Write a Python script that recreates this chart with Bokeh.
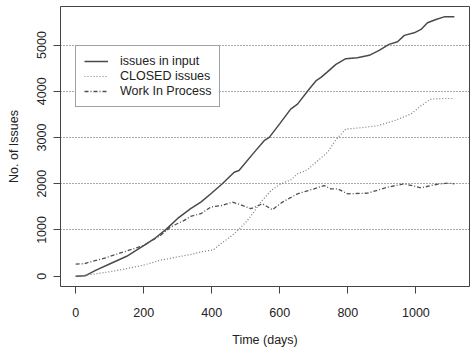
from bokeh.plotting import figure
from bokeh.models import Range1d, FixedTicker, Legend, LegendItem
from bokeh.embed import file_html
from bokeh.resources import INLINE

# Issues entering the process (cumulative)
input_days = [0, 29, 60, 103, 150, 201, 235, 265, 299, 338, 368, 400, 431, 466, 480,
              529, 554, 569, 600, 632, 652, 686, 706, 721, 740, 765, 794, 828, 863,
              892, 921, 946, 966, 995, 1015, 1034, 1059, 1083, 1113]
input_vals = [0, 10, 130, 273, 430, 668, 830, 1006, 1243, 1459, 1602, 1800, 1998, 2248, 2284,
              2716, 2931, 3002, 3300, 3614, 3722, 4045, 4224, 4300, 4420, 4583, 4705, 4726, 4778,
              4886, 5015, 5071, 5209, 5265, 5338, 5481, 5553, 5610, 5610]

# Issues closed (cumulative)
closed_days = [0, 54, 100, 152, 200, 250, 299, 340, 368, 405, 430, 460, 485, 505, 525,
               544, 574, 603, 632, 652, 681, 701, 720, 740, 765, 794, 848, 887, 936,
               985, 1015, 1044, 1080, 1113]
closed_vals = [0, 43, 95, 165, 240, 345, 416, 470, 524, 570, 720, 880, 1050, 1207, 1400,
               1600, 1850, 2000, 2080, 2213, 2300, 2430, 2550, 2680, 2950, 3183, 3218, 3254, 3362,
               3506, 3685, 3830, 3843, 3843]

# Work in process
wip_days = [0, 25, 54, 90, 132, 170, 201, 250, 279, 319, 338, 368, 397, 431, 461, 485,
            515, 549, 578, 608, 652, 701, 730, 750, 770, 799, 858, 917, 966, 1015,
            1059, 1093, 1113]
wip_vals = [259, 270, 330, 400, 503, 590, 668, 884, 1063, 1207, 1293, 1351, 1494, 1530, 1602, 1545,
            1459, 1566, 1437, 1602, 1782, 1890, 1961, 1890, 1890, 1782, 1796, 1925, 1998, 1911,
            1983, 2011, 1998]

x_ticks = [0, 200, 400, 600, 800, 1000]
y_ticks = [0, 1000, 2000, 3000, 4000, 5000]
grid_levels = [1000, 2000, 3000, 4000, 5000]

FONT = "Liberation Sans"
SIZE = "12.5px"
TXT = "#222222"

p = figure(width=473, height=352, output_backend="svg", toolbar_location=None,
           x_range=Range1d(-44.5, 1157.5), y_range=Range1d(-224, 5834),
           min_border_left=60, min_border_right=4, min_border_top=6, min_border_bottom=66,
           background_fill_color="white", border_fill_color="white")

p.outline_line_color = "#444444"
p.outline_line_width = 1

p.xgrid.visible = False
p.ygrid.ticker = FixedTicker(ticks=grid_levels)
p.ygrid.grid_line_color = "#555555"
p.ygrid.grid_line_dash = "1 2"
p.ygrid.grid_line_width = 1

for ax in (p.xaxis[0], p.yaxis[0]):
    ax.axis_line_color = None
    ax.major_tick_in = 0
    ax.major_tick_out = 7
    ax.major_tick_line_color = "#444444"
    ax.minor_tick_line_color = None
    ax.major_label_text_font = FONT
    ax.major_label_text_font_size = SIZE
    ax.major_label_text_color = TXT
    ax.axis_label_text_font = FONT
    ax.axis_label_text_font_size = SIZE
    ax.axis_label_text_font_style = "normal"
    ax.axis_label_text_color = TXT

p.xaxis.ticker = FixedTicker(ticks=x_ticks)
p.yaxis.ticker = FixedTicker(ticks=y_ticks)
p.xaxis.axis_label = "Time (days)"
p.yaxis.axis_label = "No. of Issues"
p.xaxis.major_label_standoff = 14
p.xaxis.axis_label_standoff = 13
p.yaxis.major_label_orientation = "parallel"
p.yaxis.major_label_standoff = 7
p.yaxis.axis_label_standoff = 14

r_in = p.line(input_days, input_vals, line_color="#4a4a4a", line_width=1.5)
r_cl = p.line(closed_days, closed_vals, line_color="#7a7a7a", line_width=1.2, line_dash="1 2")
r_wip = p.line(wip_days, wip_vals, line_color="#505050", line_width=1.3, line_dash="4 2 1 2")

legend = Legend(items=[
    LegendItem(label="issues in input", renderers=[r_in]),
    LegendItem(label="CLOSED issues", renderers=[r_cl]),
    LegendItem(label="Work In Process", renderers=[r_wip]),
], location=(15, 179))
legend.border_line_color = "#444444"
legend.border_line_width = 1
legend.background_fill_color = "white"
legend.background_fill_alpha = 1
legend.padding = 8
legend.margin = 0
legend.spacing = 1
legend.label_height = 14
legend.glyph_height = 14
legend.glyph_width = 24
legend.label_standoff = 12
legend.label_width = 91
legend.label_text_font = FONT
legend.label_text_font_size = SIZE
legend.label_text_color = TXT
p.add_layout(legend, "center")

open("out.html", "w").write(file_html(p, INLINE))
